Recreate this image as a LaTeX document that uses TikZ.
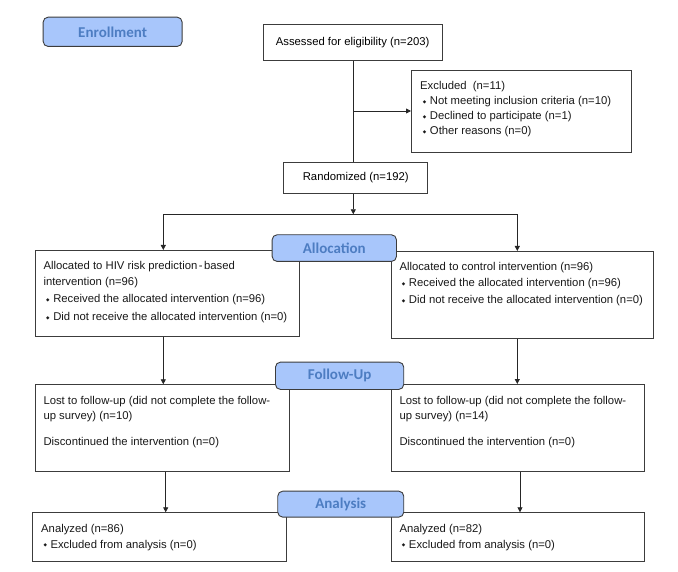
\documentclass[tikz,border=0pt]{standalone}
\usepackage{fontspec}
\setmainfont{Liberation Sans}
\newfontfamily\lblfont{Carlito}
\newfontfamily\dejavu{DejaVu Sans}
\usetikzlibrary{arrows.meta}
\definecolor{lblfill}{RGB}{168,198,251}
\definecolor{lbltext}{RGB}{77,125,194}
\definecolor{edge}{RGB}{60,60,60}
\newcommand\bul{\raisebox{1.2pt}{\dejavu\fontsize{4.5}{5}\selectfont ◆}\hspace{3.6pt}}
\tikzset{
  box/.style={draw=edge, line width=0.9pt, anchor=north west, inner sep=0pt, fill=white},
  lbl/.style={draw=edge, line width=0.9pt, fill=lblfill, rounded corners=5pt, anchor=north west, inner sep=0pt,
              text=lbltext, font=\lblfont\bfseries\fontsize{15}{18}\selectfont},
  txt/.style={anchor=base west, inner sep=0pt, font=\fontsize{11.3}{13}\selectfont, text=black!90},
  arr/.style={draw=black!85, line width=0.8pt, -{Triangle[length=5pt,width=5pt]}},
  ln/.style={draw=black!85, line width=0.8pt},
}
\begin{document}
\begin{tikzpicture}[x=1pt,y=-1pt]
\useasboundingbox (0,0) rectangle (678,572);
% boxes
\node[box, minimum width=179pt, minimum height=36pt, font=\fontsize{11.3}{13}\selectfont] (assess) at (262.7,24) {Assessed for eligibility (n=203)};
\node[box, minimum width=219.7pt, minimum height=81.7pt] (excl) at (411,70.3) {};
\node[box, minimum width=144pt, minimum height=30.4pt, font=\fontsize{11.3}{13}\selectfont] (rand) at (283.3,162.3) {Randomized (n=192)};
\node[box, minimum width=264.6pt, minimum height=86.3pt] (alloc1) at (34.7,250) {};
\node[box, minimum width=262.6pt, minimum height=87pt] (alloc2) at (390.7,251) {};
\node[box, minimum width=254.6pt, minimum height=86.7pt] (fu1) at (34.7,384.3) {};
\node[box, minimum width=253.6pt, minimum height=87pt] (fu2) at (390.7,384) {};
\node[box, minimum width=253.7pt, minimum height=48.4pt] (an1) at (32.3,512.3) {};
\node[box, minimum width=253.6pt, minimum height=48.4pt] (an2) at (390.7,512.3) {};
% guide coordinates
\coordinate (cmid) at (353.3,111);
\coordinate (split) at (353.3,214.3);
\coordinate (splitL) at (163.3,214.3);
\coordinate (splitR) at (517.3,214.3);
\coordinate (cL2) at (165.7,0);
\coordinate (cR2) at (520,0);
% connectors
\draw[ln] (assess.south -| split) -- (rand.north -| split);
\draw[arr] (cmid) -- (excl.west |- cmid);
\draw[arr] (rand.south -| split) -- (split);
\draw[ln] (splitL) -- (splitR);
\draw[arr] (splitL) -- (alloc1.north -| splitL);
\draw[arr] (splitR) -- (alloc2.north -| splitR);
\draw[arr] (alloc1.south -| splitL) -- (fu1.north -| splitL);
\draw[arr] (alloc2.south -| splitR) -- (fu2.north -| splitR);
\draw[arr] (fu1.south -| cL2) -- (an1.north -| cL2);
\draw[arr] (fu2.south -| cR2) -- (an2.north -| cR2);
% texts
\node[txt] (e1) at (420,89.7) {Excluded\ \ (n=11)};
\node[txt] (e2) at (422.7,104.7) {\bul Not meeting inclusion criteria (n=10)};
\node[txt] (e3) at (422.7,119.7) {\bul Declined to participate (n=1)};
\node[txt] (e4) at (422.7,134.7) {\bul Other reasons (n=0)};
\node[txt] (a11) at (43.3,270) {Allocated to HIV risk prediction{\kern1.5pt}-{\kern1.5pt}based};
\node[txt] (a12) at (43.3,285.7) {intervention (n=96)};
\node[txt] (a13) at (46,303) {\bul Received the allocated intervention (n=96)};
\node[txt] (a14) at (46,320.3) {\bul Did not receive the allocated intervention (n=0)};
\node[txt] (a21) at (399.3,270.7) {Allocated to control intervention (n=96)};
\node[txt] (a22) at (401.7,286.7) {\bul Received the allocated intervention (n=96)};
\node[txt] (a23) at (401.7,304) {\bul Did not receive the allocated intervention (n=0)};
\node[txt] (f11) at (43.3,404.7) {Lost to follow-up (did not complete the follow-};
\node[txt] (f12) at (43.3,419.7) {up survey) (n=10)};
\node[txt] (f13) at (43.3,445.7) {Discontinued the intervention (n=0)};
\node[txt] (f21) at (399.3,404) {Lost to follow-up (did not complete the follow-};
\node[txt] (f22) at (399.3,419) {up survey) (n=14)};
\node[txt] (f23) at (399.3,445) {Discontinued the intervention (n=0)};
\node[txt] (n11) at (41,532.3) {Analyzed (n=86)};
\node[txt] (n12) at (43.3,548) {\bul Excluded from analysis (n=0)};
\node[txt] (n21) at (399.3,532.3) {Analyzed (n=82)};
\node[txt] (n22) at (401.7,548) {\bul Excluded from analysis (n=0)};
% stage labels
\node[lbl, minimum width=139pt, minimum height=29.3pt] (enr) at (42.7,16.7) {Enrollment};
\node[lbl, minimum width=124.3pt, minimum height=26.7pt] (lalloc) at (271.7,234.3) {Allocation};
\node[lbl, minimum width=128.3pt, minimum height=27.3pt] (lfu) at (275,361.7) {Follow-Up};
\node[lbl, minimum width=126pt, minimum height=26pt] (lan) at (277.3,490.7) {Analysis};
\end{tikzpicture}
\end{document}
